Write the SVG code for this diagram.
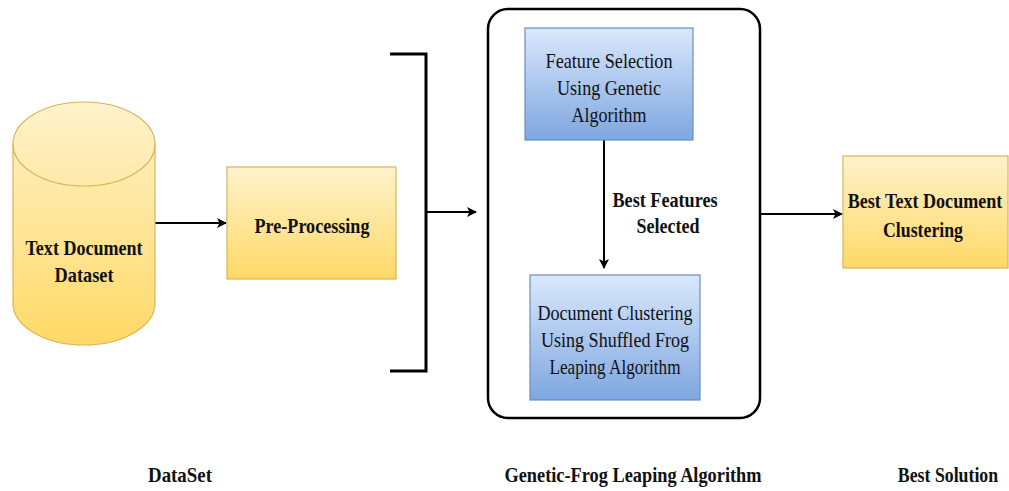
<svg xmlns="http://www.w3.org/2000/svg" width="1009" height="491" viewBox="0 0 1009 491">
  <defs>
    <linearGradient id="gYellow" x1="0" y1="0" x2="0" y2="1">
      <stop offset="0" stop-color="#fff2cc"/>
      <stop offset="1" stop-color="#ffd966"/>
    </linearGradient>
    <linearGradient id="gBlue" x1="0" y1="0" x2="0" y2="1">
      <stop offset="0" stop-color="#dae8fc"/>
      <stop offset="1" stop-color="#7ea6e0"/>
    </linearGradient>
    <marker id="arrow" viewBox="0 0 10 10" refX="9" refY="5" markerWidth="10" markerHeight="10" markerUnits="userSpaceOnUse" orient="auto">
      <path d="M0,0 L10,5 L0,10 L2.5,5 Z" fill="#000"/>
    </marker>
    <style>
      .yellow { fill: url(#gYellow); stroke: #d6b656; stroke-width: 1.2; }
      .blue { fill: url(#gBlue); stroke: #6c8ebf; stroke-width: 1.2; }
      .t { font-family: "Liberation Serif", "Times New Roman", serif; font-size: 21px; fill: #111; text-anchor: middle; }
      .b { font-weight: bold; }
      .conn { fill: none; stroke: #000; stroke-width: 2; }
      .thick { fill: none; stroke: #000; stroke-width: 3; }
    </style>
  </defs>
  <rect width="1009" height="491" fill="#fff"/>

  <!-- connectors -->
  <g id="connectors">
    <line class="conn" x1="155" y1="223" x2="226" y2="223" marker-end="url(#arrow)"/>
    <path class="thick" d="M390,54 H426 V371 H390"/>
    <line class="conn" x1="426" y1="212" x2="476" y2="212" marker-end="url(#arrow)"/>
    <line class="conn" x1="604" y1="140" x2="604" y2="268" marker-end="url(#arrow)"/>
    <line class="conn" x1="760" y1="214" x2="842" y2="214" marker-end="url(#arrow)"/>
  </g>

  <!-- dataset cylinder -->
  <g id="dataset">
    <path class="yellow" d="M13,144 A71,42 0 0 1 155,144 V303 A71,42 0 0 1 13,303 Z"/>
    <path fill="none" stroke="#d6b656" stroke-width="1.2" d="M13,144 A71,42 0 0 0 155,144"/>
    <text class="t b" x="84" y="255" textLength="117" lengthAdjust="spacingAndGlyphs">Text Document</text>
    <text class="t b" x="84" y="282" textLength="59" lengthAdjust="spacingAndGlyphs">Dataset</text>
  </g>

  <!-- pre-processing -->
  <g id="preprocessing">
    <rect class="yellow" x="227" y="167" width="169" height="112"/>
    <text class="t b" x="312" y="233" textLength="115" lengthAdjust="spacingAndGlyphs">Pre-Processing</text>
  </g>

  <!-- genetic-frog leaping container -->
  <g id="gfla">
    <rect x="488" y="9" width="272" height="409" rx="20" ry="20" fill="none" stroke="#000" stroke-width="2.5"/>
  </g>

  <g id="featureSelection">
    <rect class="blue" x="525" y="28" width="168" height="112"/>
    <text class="t" x="609" y="68" textLength="127" lengthAdjust="spacingAndGlyphs">Feature Selection</text>
    <text class="t" x="609" y="95" textLength="104" lengthAdjust="spacingAndGlyphs">Using Genetic</text>
    <text class="t" x="609" y="122" textLength="75" lengthAdjust="spacingAndGlyphs">Algorithm</text>
  </g>

  <g id="bestFeaturesLabel">
    <text class="t b" x="665" y="207" textLength="105" lengthAdjust="spacingAndGlyphs">Best Features</text>
    <text class="t b" x="668" y="233" textLength="63" lengthAdjust="spacingAndGlyphs">Selected</text>
  </g>

  <g id="documentClustering">
    <rect class="blue" x="530" y="275" width="170" height="125"/>
    <text class="t" x="615" y="320" textLength="155" lengthAdjust="spacingAndGlyphs">Document Clustering</text>
    <text class="t" x="615" y="347" textLength="148" lengthAdjust="spacingAndGlyphs">Using Shuffled Frog</text>
    <text class="t" x="615" y="374" textLength="131" lengthAdjust="spacingAndGlyphs">Leaping Algorithm</text>
  </g>

  <!-- result -->
  <g id="bestClustering">
    <rect class="yellow" x="843" y="156" width="165" height="112"/>
    <text class="t b" transform="translate(925,208) scale(0.85,1)" x="0" y="0" textLength="182" lengthAdjust="spacingAndGlyphs">Best Text Document</text>
    <text class="t b" x="923" y="237" textLength="80" lengthAdjust="spacingAndGlyphs">Clustering</text>
  </g>

  <!-- stage captions -->
  <g id="captions">
    <text class="t b" x="180" y="482" font-size="20" textLength="64" lengthAdjust="spacingAndGlyphs">DataSet</text>
    <text class="t b" x="633" y="482" font-size="20" textLength="257" lengthAdjust="spacingAndGlyphs">Genetic-Frog Leaping Algorithm</text>
    <text class="t b" transform="translate(948,482) scale(0.85,1)" x="0" y="0" font-size="20" textLength="118" lengthAdjust="spacingAndGlyphs">Best Solution</text>
  </g>
</svg>
